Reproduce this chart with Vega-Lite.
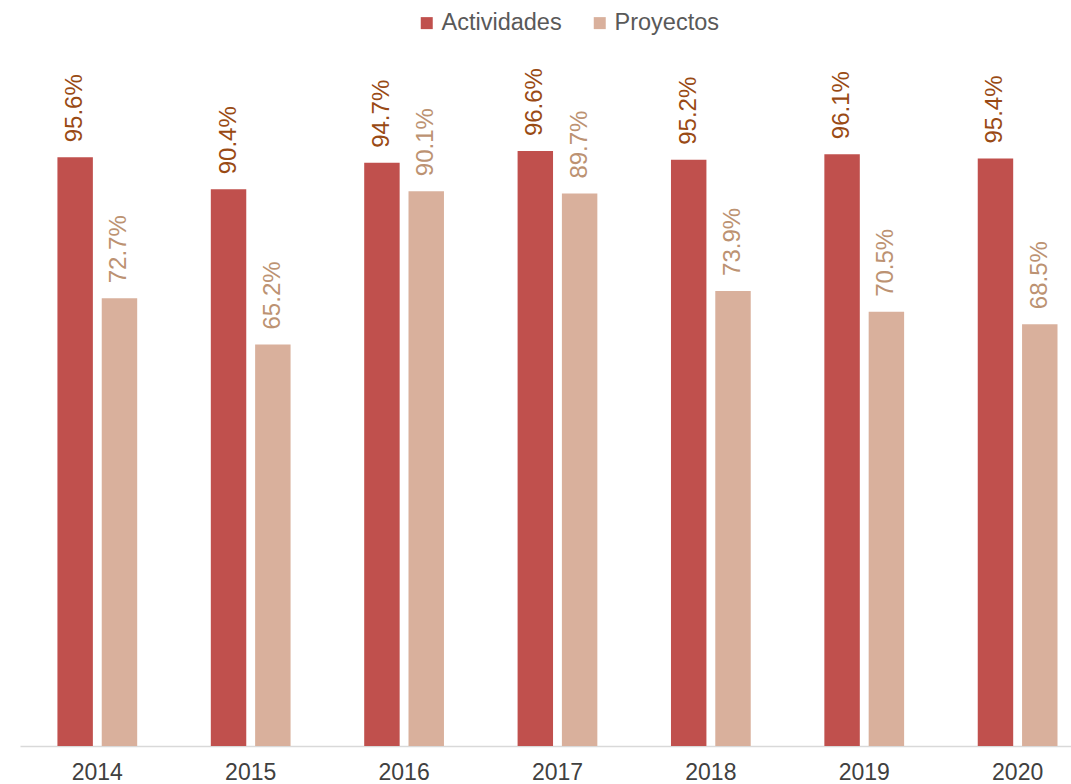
{
  "$schema": "https://vega.github.io/schema/vega-lite/v6.json",
  "autosize": {"type": "none"},
  "width": 1051,
  "height": 746,
  "padding": {"left": 20, "top": 0, "right": 0, "bottom": 38},
  "background": "white",
  "config": {
    "view": {"stroke": null},
    "font": "Liberation Sans"
  },
  "data": {
    "values": [
      {"year": "2014", "serie": "Actividades", "value": 0.956},
      {"year": "2014", "serie": "Proyectos", "value": 0.727},
      {"year": "2015", "serie": "Actividades", "value": 0.904},
      {"year": "2015", "serie": "Proyectos", "value": 0.652},
      {"year": "2016", "serie": "Actividades", "value": 0.947},
      {"year": "2016", "serie": "Proyectos", "value": 0.901},
      {"year": "2017", "serie": "Actividades", "value": 0.966},
      {"year": "2017", "serie": "Proyectos", "value": 0.897},
      {"year": "2018", "serie": "Actividades", "value": 0.952},
      {"year": "2018", "serie": "Proyectos", "value": 0.739},
      {"year": "2019", "serie": "Actividades", "value": 0.961},
      {"year": "2019", "serie": "Proyectos", "value": 0.705},
      {"year": "2020", "serie": "Actividades", "value": 0.954},
      {"year": "2020", "serie": "Proyectos", "value": 0.685}
    ]
  },
  "encoding": {
    "x": {
      "field": "year",
      "type": "nominal",
      "scale": {"paddingInner": 0.48, "paddingOuter": 0.166, "align": 0.735},
      "axis": {
        "title": null,
        "labelAngle": 0,
        "ticks": false,
        "domainColor": "#D9D9D9",
        "domainWidth": 1.5,
        "labelFont": "Liberation Sans",
        "labelFontSize": 23,
        "labelColor": "#404040",
        "labelPadding": 15
      }
    },
    "xOffset": {
      "field": "serie",
      "type": "nominal",
      "scale": {"paddingInner": 0.2, "paddingOuter": 0}
    },
    "y": {
      "field": "value",
      "type": "quantitative",
      "scale": {"domain": [0, 1.2114], "nice": false},
      "axis": null
    }
  },
  "layer": [
    {
      "mark": {"type": "bar"},
      "encoding": {
        "color": {
          "field": "serie",
          "type": "nominal",
          "scale": {"domain": ["Actividades", "Proyectos"], "range": ["#C0504D", "#D9B09C"]},
          "legend": {
            "title": null,
            "orient": "none",
            "direction": "horizontal",
            "legendX": 395,
            "legendY": 11,
            "padding": 0,
            "symbolType": "square",
            "symbolSize": 144,
            "symbolStrokeWidth": 0,
            "symbolOpacity": 1,
            "labelFont": "Liberation Sans",
            "labelFontSize": 23.5,
            "labelColor": "#595959",
            "labelOffset": 3,
            "columnPadding": 26
          }
        }
      }
    },
    {
      "transform": [{"filter": "datum.serie === 'Actividades'"}],
      "mark": {
        "type": "text",
        "angle": 270,
        "align": "left",
        "baseline": "middle",
        "dx": 15,
        "font": "Liberation Sans",
        "fontSize": 24,
        "color": "#994A14"
      },
      "encoding": {
        "text": {"field": "value", "type": "quantitative", "format": ".1%"}
      }
    },
    {
      "transform": [{"filter": "datum.serie === 'Proyectos'"}],
      "mark": {
        "type": "text",
        "angle": 270,
        "align": "left",
        "baseline": "middle",
        "dx": 15,
        "font": "Liberation Sans",
        "fontSize": 24,
        "color": "#BC9272"
      },
      "encoding": {
        "text": {"field": "value", "type": "quantitative", "format": ".1%"}
      }
    }
  ]
}
